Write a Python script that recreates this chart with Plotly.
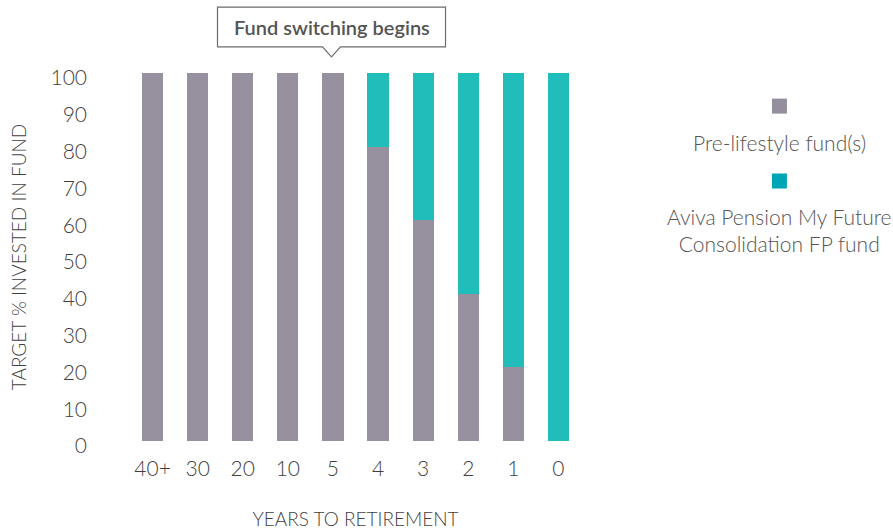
import plotly.graph_objects as go

# Data
years = ["40+", "30", "20", "10", "5", "4", "3", "2", "1", "0"]
pre_lifestyle = [100, 100, 100, 100, 100, 80, 60, 40, 20, 0]
consolidation = [0, 0, 0, 0, 0, 20, 40, 60, 80, 100]
series_names = ["Pre-lifestyle fund(s)", "Aviva Pension My Future<br>Consolidation FP fund"]
bar_colors = ["#97919F", "#21BDBB"]
legend_colors = ["#958E9C", "#00A5B5"]
callout_text = "Fund switching begins"

FONT = "Lato"
TXT = "#3f3f3f"

fig = go.Figure()
fig.add_trace(go.Bar(x=years, y=pre_lifestyle, name=series_names[0],
                     marker=dict(color=bar_colors[0], line=dict(width=0))))
fig.add_trace(go.Bar(x=years, y=consolidation, name=series_names[1],
                     marker=dict(color=bar_colors[1], line=dict(width=0))))

fig.update_layout(
    barmode="stack",
    bargap=0.53,
    width=893, height=532,
    margin=dict(l=130, r=312, t=73, b=91),
    plot_bgcolor="white", paper_bgcolor="white",
    showlegend=False,
    font=dict(family=FONT, color=TXT, size=20, weight=300),
)
fig.update_xaxes(
    type="category", automargin=False,
    showgrid=False, showline=False, zeroline=False,
    ticks="", ticklabelstandoff=13,
    tickfont=dict(size=21, color=TXT, weight=300),
    title=dict(text="YEARS TO RETIREMENT", font=dict(size=19, color=TXT, weight=300), standoff=33),
)
fig.update_yaxes(
    range=[0, 100], tickvals=list(range(0, 101, 10)), automargin=False,
    showgrid=False, showline=False, zeroline=False,
    ticks="", ticklabelstandoff=42, ticklabelshift=5,
    tickfont=dict(size=21, color=TXT, weight=300),
    title=dict(text="TARGET % INVESTED IN FUND", font=dict(size=19, color=TXT, weight=300), standoff=18),
)

# Callout box with pointer (paper coords)
x0, x1, xc, dx = 0.194, 0.6996, 0.4468, 0.02
y_top, y_bot, y_tip = 1.179, 1.071, 1.044
path = (f"M {x0},{y_top} L {x1},{y_top} L {x1},{y_bot} L {xc+dx},{y_bot} "
        f"L {xc},{y_tip} L {xc-dx},{y_bot} L {x0},{y_bot} Z")
fig.add_shape(type="path", path=path, xref="paper", yref="paper",
              line=dict(color="#6b6b6b", width=1.2), fillcolor="white")
fig.add_annotation(text=callout_text, xref="paper", yref="paper",
                   x=(x0 + x1) / 2, y=(y_top + y_bot) / 2,
                   xanchor="center", yanchor="middle", showarrow=False,
                   font=dict(family=FONT, size=20, color="#555555", weight=600))

# Custom legend: marker above text
lx = 1.44
marker_y = [0.910, 0.7065]
text_y = [0.8098, 0.5734]
for name, col, my, ty in zip(series_names, legend_colors, marker_y, text_y):
    fig.add_shape(type="rect", xref="paper", yref="paper",
                  x0=lx - 0.0166, x1=lx + 0.0166, y0=my - 0.0204, y1=my + 0.0204,
                  fillcolor=col, line=dict(width=0))
    fig.add_annotation(text=name, xref="paper", yref="paper", x=lx, y=ty,
                       xanchor="center", yanchor="middle",
                       showarrow=False, align="center",
                       font=dict(family=FONT, size=21, color="#555555", weight=300))

# page has a default 8px body margin; remove it so the figure sits at the origin
fig.write_html("out.html", config={"displayModeBar": False},
               post_script="document.body.style.margin='0';")
